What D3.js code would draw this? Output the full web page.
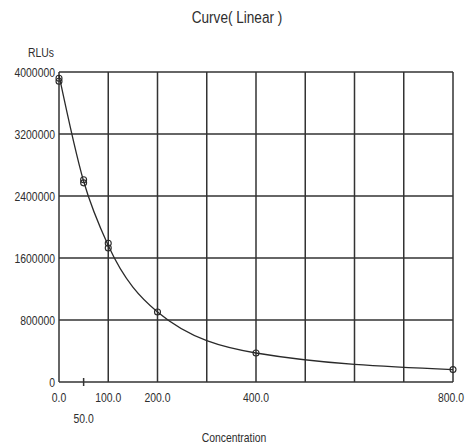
<!DOCTYPE html>
<html><head><meta charset="utf-8">
<script src="https://cdn.jsdelivr.net/npm/d3@7/dist/d3.min.js"></script>
<style>
html,body{margin:0;padding:0;background:#fff;}
text{font-family:"Liberation Sans Narrow","Arial Narrow","Liberation Sans",Arial,sans-serif;fill:#2e2e2e;}
</style></head>
<body>
<svg id="chart" width="465" height="445"></svg>
<script>
// Data
const concentrations = [0, 0, 50, 50, 100, 100, 200, 400, 800];
const rlus = [3920000, 3880000, 2610000, 2570000, 1790000, 1730000, 903000, 374000, 160000];
const curveX = [0, 50, 100, 200, 400, 800];
const curveY = [3960000, 2590000, 1760000, 903000, 374000, 160000];
const yTicks = [0, 800000, 1600000, 2400000, 3200000, 4000000];
const xGrid = [0, 100, 200, 300, 400, 500, 600, 700, 800];
const xTickLabels = [0, 100, 200, 400, 800];
const xLowLabels = [50];

const svg = d3.select("#chart");
const x = d3.scaleLinear().domain([0, 800]).range([59, 453]);
const y = d3.scaleLinear().domain([0, 4000000]).range([382, 72]);
const SX = 0.8; // horizontal condensing of the narrow font

function narrowText(sel, px, py) {
  return sel.attr("transform", (d, i) => `translate(${px(d, i)},${py(d, i)}) scale(${SX},1)`);
}

// grid
const g = svg.append("g");
g.selectAll("line.v").data(xGrid).join("line")
  .attr("x1", d => x(d)).attr("x2", d => x(d))
  .attr("y1", y(4000000)).attr("y2", y(0))
  .attr("stroke", "#333").attr("stroke-width", 1.5);
g.selectAll("line.h").data(yTicks).join("line")
  .attr("x1", x(0)).attr("x2", x(800))
  .attr("y1", d => y(d)).attr("y2", d => y(d))
  .attr("stroke", "#333").attr("stroke-width", 1.5);

// small tick at 50
g.selectAll("line.t").data(xLowLabels).join("line")
  .attr("x1", d => x(d)).attr("x2", d => x(d))
  .attr("y1", y(0) - 4).attr("y2", y(0) + 4)
  .attr("stroke", "#333").attr("stroke-width", 1.5);

// y labels
narrowText(svg.selectAll("text.yl").data(yTicks).join("text")
  .attr("text-anchor", "end").attr("font-size", 13).text(d => d),
  () => 55, d => y(d) + 4.5);

// x labels
narrowText(svg.selectAll("text.xl").data(xTickLabels).join("text")
  .attr("text-anchor", d => d === 800 ? "end" : "middle").attr("font-size", 13)
  .text(d => d.toFixed(1)),
  d => d === 800 ? 464 : x(d), () => 402);
narrowText(svg.selectAll("text.xl2").data(xLowLabels).join("text")
  .attr("text-anchor", "middle").attr("font-size", 13)
  .text(d => d.toFixed(1)),
  d => x(d), () => 423);

// titles
narrowText(svg.append("text").datum(0).attr("text-anchor", "middle")
  .attr("font-size", 17).text("Curve( Linear )"), () => 237, () => 23);
narrowText(svg.append("text").datum(0).attr("text-anchor", "middle")
  .attr("font-size", 13).text("RLUs"), () => 41, () => 57);
narrowText(svg.append("text").datum(0).attr("text-anchor", "middle")
  .attr("font-size", 13).text("Concentration"), () => 234, () => 442);

// curve
const line = d3.line().x(d => x(d[0])).y(d => y(d[1])).curve(d3.curveMonotoneX);
svg.append("path").datum(d3.zip(curveX, curveY))
  .attr("d", line).attr("fill", "none")
  .attr("stroke", "#2a2a2a").attr("stroke-width", 1.3);

// points
svg.selectAll("circle").data(d3.zip(concentrations, rlus)).join("circle")
  .attr("cx", d => x(d[0])).attr("cy", d => y(d[1])).attr("r", 3)
  .attr("fill", "none").attr("stroke", "#2a2a2a").attr("stroke-width", 1.1);
</script>
</body></html>
